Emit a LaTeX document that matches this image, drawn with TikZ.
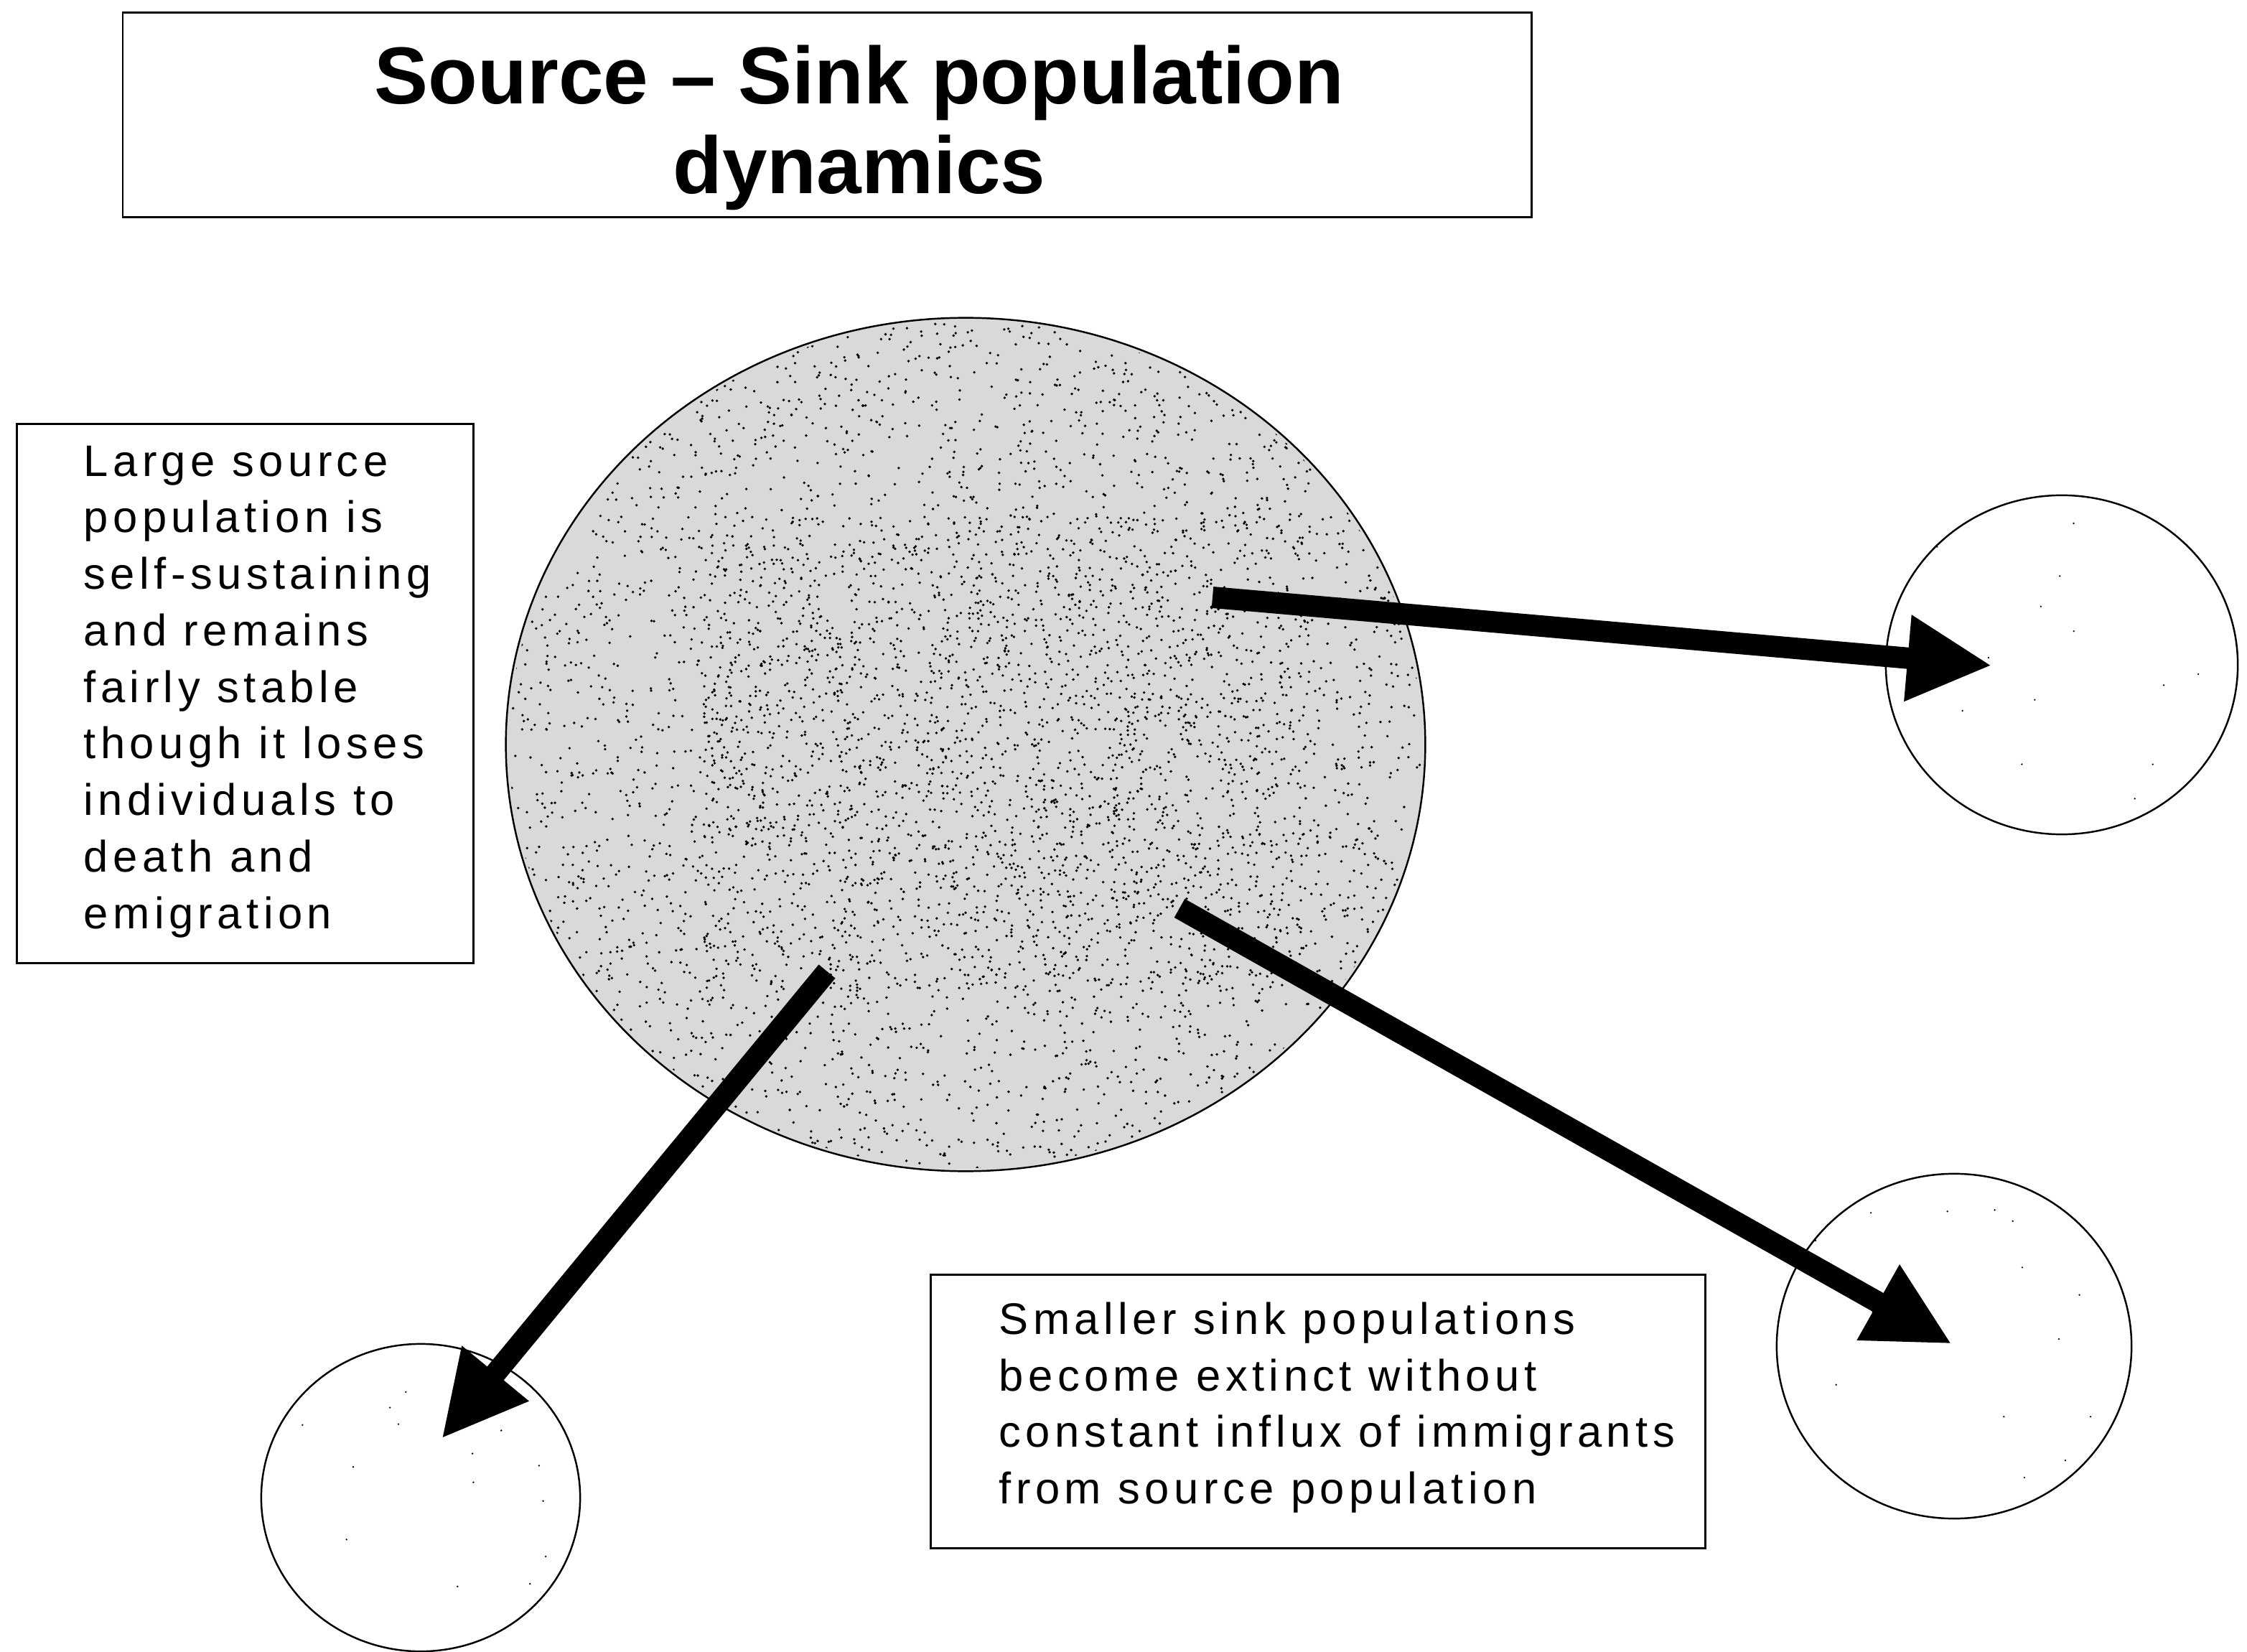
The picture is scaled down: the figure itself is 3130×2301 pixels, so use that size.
\documentclass[tikz,border=0pt]{standalone}
\usepackage{fontspec}
\setmainfont{Liberation Sans}
\newfontfamily\bodyfont[LetterSpace=10.5]{Liberation Sans}
\usetikzlibrary{arrows.meta,shapes.geometric}
\begin{document}
\begin{tikzpicture}[x=0.01cm,y=-0.01cm,
  box/.style={draw=black,line width=0.8pt,inner sep=0,outer sep=0},
  pop/.style={ellipse,draw=black,line width=0.7pt,inner sep=0,outer sep=0},
  flow/.style={line width=8.5pt,-{Triangle[length=1.18cm,width=1.12cm]}},
  txt/.style={font=\bodyfont\fontsize{17.5}{22.4}\selectfont,align=left,inner sep=0,anchor=north west},
  ttl/.style={font=\bfseries\fontsize{32}{35.5}\selectfont,align=center,inner sep=0}]
\useasboundingbox (0,0) rectangle (3130,2301);
\pgfmathsetseed{7}
% title
\node[box,minimum width=19.61cm,minimum height=2.85cm] (titlebox) at (1152,160) {};
\node[ttl] (title) at (1197,178) {Source -- Sink population\\dynamics};
% source population
\node[pop,fill=black!15,minimum width=12.8cm,minimum height=11.88cm] (src) at (1345,1037) {};
\begin{scope}
  \clip (1345,1037) ellipse [x radius=636, y radius=590];
  \foreach \i in {1,...,4500} {\fill (1345+640*rand,1037+594*rand) circle [radius=1.9];}
  \foreach \i in {1,...,1500} {\fill (1400+420*rand,1050+330*rand) circle [radius=1.9];}
\end{scope}
% sink populations
\node[pop,minimum width=4.9cm,minimum height=4.72cm] (sinkR) at (2872,926) {};
\node[pop,minimum width=4.94cm,minimum height=4.8cm] (sinkBR) at (2722,1875) {};
\node[pop,minimum width=4.44cm,minimum height=4.28cm] (sinkBL) at (586,2086) {};
\foreach \cx/\cy/\r in {2872/926/200,2722/1875/200,586/2086/180} {
  \foreach \j in {1,...,14} {\fill (\cx+\r*rand,\cy+\r*rand) circle [radius=1.3];}
}
% text boxes
\node[box,minimum width=6.35cm,minimum height=7.5cm] (leftbox) at (341.5,966) {};
\node[txt] (lefttext) at (116,620) {Large source\\population is\\self-sustaining\\and remains\\fairly stable\\though it loses\\individuals to\\death and\\emigration};
\node[box,minimum width=10.78cm,minimum height=3.8cm] (botbox) at (1836,1966) {};
\node[txt] (bottext) at (1391,1813) {Smaller sink populations\\become extinct without\\constant influx of immigrants\\from source population};
% arrows
\coordinate (s1) at (1689,832);
\coordinate (t1) at (2775,927);
\coordinate (s2) at (1643,1265);
\coordinate (t2) at (2719,1872);
\coordinate (s3) at (1152,1353);
\coordinate (t3) at (615,2004);
\draw[flow] (s1) -- (t1);
\draw[flow] (s2) -- (t2);
\draw[flow] (s3) -- (t3);
\end{tikzpicture}
\end{document}
